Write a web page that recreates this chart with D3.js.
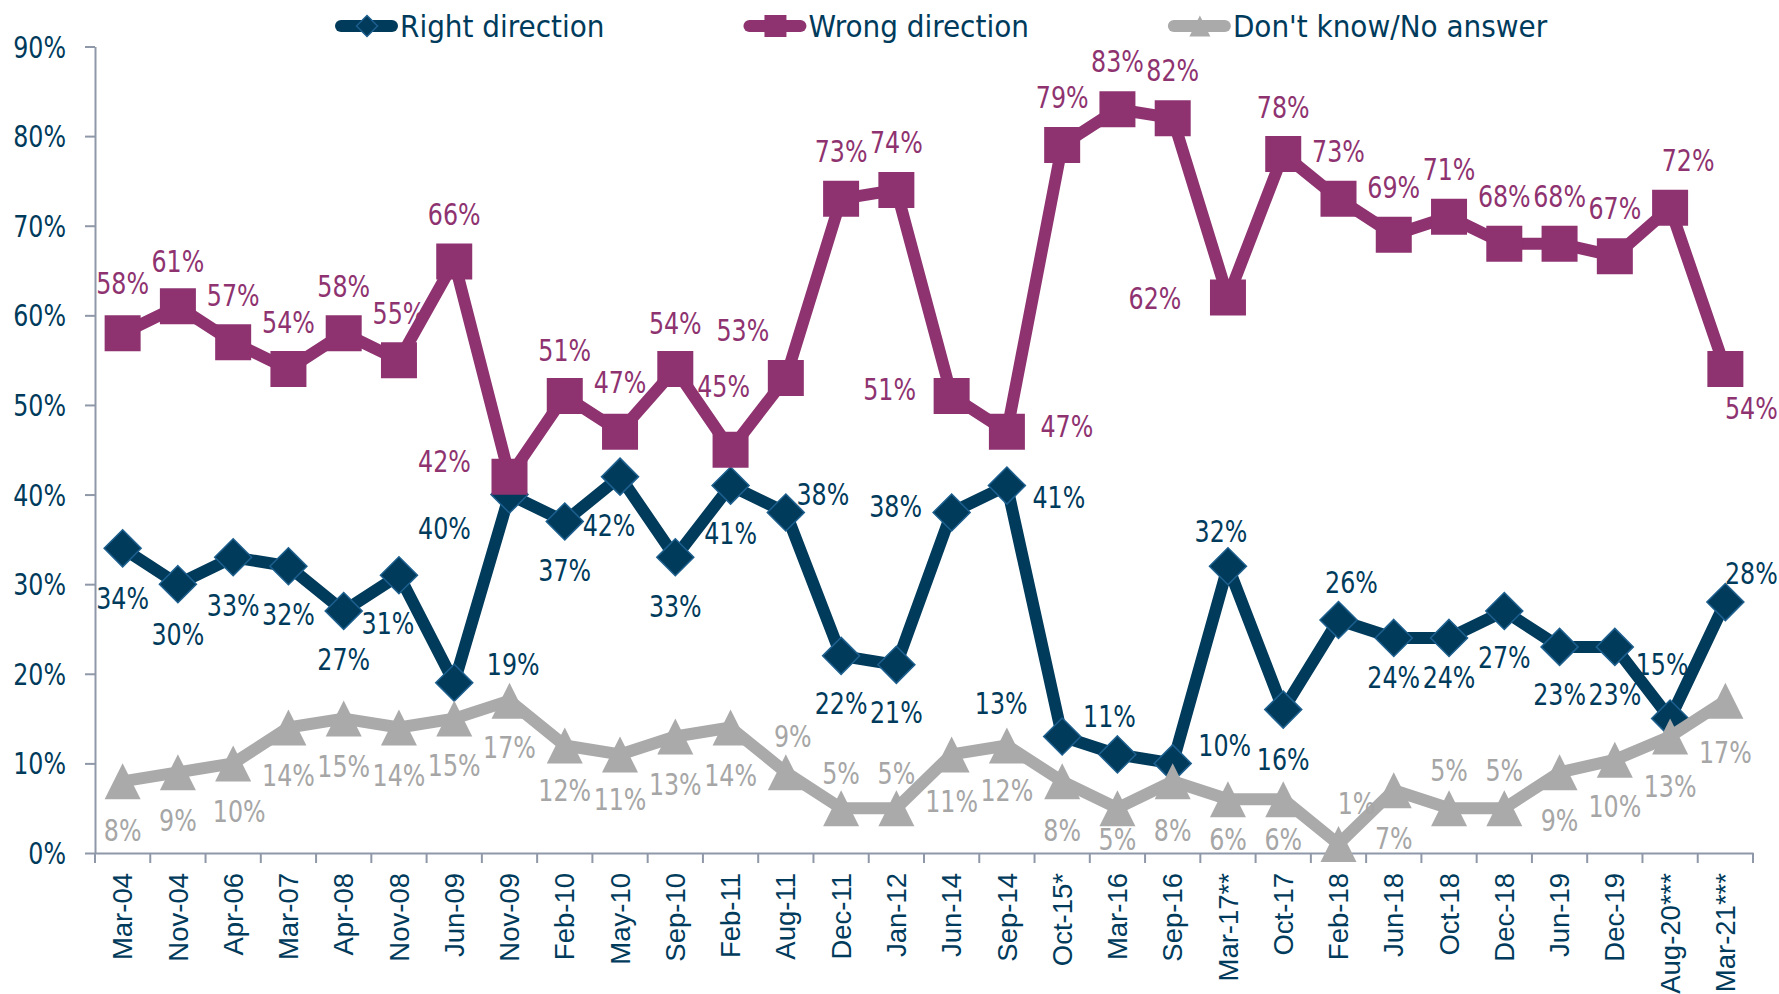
<!DOCTYPE html>
<html lang="en">
<head>
<meta charset="utf-8">
<title>Right direction / Wrong direction</title>
<script src="https://cdn.jsdelivr.net/npm/d3@7"></script>
<style>
  body { margin: 0; background: #fff; }
  .num { font-family: "Liberation Sans Narrow", "DejaVu Sans Condensed", sans-serif; font-size: 30px; }
  .leg { font-family: "DejaVu Sans Condensed", "DejaVu Sans", sans-serif; font-size: 31px; fill: #003b5c; }
  .xax text { font-family: "Liberation Sans", Arial, sans-serif; font-size: 27.5px; fill: #003b5c; }
</style>
</head>
<body>
<script>
// survey waves
var categories = ["Mar-04","Nov-04","Apr-06","Mar-07","Apr-08","Nov-08","Jun-09","Nov-09","Feb-10","May-10",
                  "Sep-10","Feb-11","Aug-11","Dec-11","Jan-12","Jun-14","Sep-14","Oct-15*","Mar-16","Sep-16",
                  "Mar-17**","Oct-17","Feb-18","Jun-18","Oct-18","Dec-18","Jun-19","Dec-19","Aug-20***","Mar-21***"];

var rightDir = [34,30,33,32,27,31,19,40,37,42,33,41,38,22,21,38,41,13,11,10,32,16,26,24,24,27,23,23,15,28];
var wrongDir = [58,61,57,54,58,55,66,42,51,47,54,45,53,73,74,51,47,79,83,82,62,78,73,69,71,68,68,66.6,72,54];
var dontKnow = [8,9,10,14,15,14,15,17,12,11,13,14,9,5,5,11,12,8,5,8,6,6,1,7,5,5,9,10.4,13,17];

var yTicks = [0,10,20,30,40,50,60,70,80,90];

// where each data label sits relative to its point (dx, dy)
var rightNudge = [[0,50],[0,50],[0,48],[0,48],[0,48],[-11,48],[59,-18],[-65,34],[0,49],[-11,49],
                  [0,49],[0,48],[37,-18],[0,48],[0,48],[-56,-6],[52,12],[-61,-33],[-8,-38],[52,-18],
                  [-7,-35],[0,50],[13,-38],[0,40],[0,40],[0,46],[0,48],[0,48],[-8,-54],[26,-29]];
var wrongNudge = [[0,-50],[0,-45],[0,-47],[0,-47],[0,-47],[0,-47],[0,-47],[-65,-15],[0,-45],[0,-49],
                  [0,-46],[-7,-63],[-43,-48],[0,-47],[0,-47],[-62,-6],[60,-5],[0,-48],[0,-48],[0,-48],
                  [-73,1],[0,-47],[0,-47],[0,-47],[0,-47],[0,-47],[0,-47],[0,-48],[18,-47],[26,39]];
var dkNudge    = [[0,49],[0,48],[6,48],[0,48],[0,48],[0,48],[0,47],[0,47],[0,45],[0,45],
                  [0,48],[0,48],[7,-36],[0,-35],[0,-35],[0,47],[0,45],[0,49],[0,48],[0,49],
                  [0,48],[0,48],[18,-41],[0,48],[0,-38],[0,-38],[0,48],[0,47],[0,50],[0,52]];

var navy = "#003b5c", plum = "#8e3370", grey = "#aaaaaa", axisCol = "#8f98a8";

var series = [
    {name: "Right direction",      values: rightDir, nudge: rightNudge, color: navy, text: navy,      shape: "diamond"},
    {name: "Wrong direction",      values: wrongDir, nudge: wrongNudge, color: plum, text: plum,      shape: "square"},
    {name: "Don't know/No answer", values: dontKnow, nudge: dkNudge,    color: grey, text: "#a6a6a6", shape: "triangle"}
];

var w = 1779, h = 994;
var padLeft = 95, padRight = 1753, padTop = 46.5, padBottom = 853;
var squeeze = 0.88; // the number font is narrower than anything installed

var svg = d3.select("body").append("svg").attr("width", w).attr("height", h);

var x = d3.scaleBand().domain(categories).range([padLeft, padRight]);
var y = d3.scaleLinear().domain([0, 90]).range([padBottom, padTop]);
function cx(i) { return x(categories[i]) + x.bandwidth() / 2; }

function shapePath(shape, s) {
    var r = s / 2;
    if (shape == "diamond") return "M0," + (-r) + "L" + r + ",0L0," + r + "L" + (-r) + ",0Z";
    if (shape == "square") return "M" + (-r) + "," + (-r) + "h" + s + "v" + s + "h" + (-s) + "Z";
    return "M0," + (-r) + "L" + r + "," + r + "L" + (-r) + "," + r + "Z";
}
var markerSize = {diamond: 37, square: 36, triangle: 36};

// y axis
var yAxis = d3.axisLeft(y).tickValues(yTicks).tickSize(10).tickSizeOuter(0).tickPadding(19)
    .tickFormat(function(d) { return d + "%"; });
var gy = svg.append("g").attr("transform", "translate(" + padLeft + ",0)").call(yAxis);
gy.select(".domain").attr("stroke", axisCol).attr("stroke-width", 2);
gy.selectAll(".tick line").attr("stroke", axisCol).attr("stroke-width", 2);
gy.selectAll(".tick text").each(function() {
    var t = d3.select(this), tx = +t.attr("x");
    t.attr("class", "num").attr("fill", navy).attr("dy", "0.35em")
     .attr("x", 0).attr("transform", "translate(" + tx + ",0) scale(" + squeeze + ",1)");
});

// x axis: labels at band centres, ticks on band edges
var xAxis = d3.axisBottom(x).tickSize(0).tickSizeOuter(0);
var gx = svg.append("g").attr("class", "xax").attr("transform", "translate(0," + padBottom + ")").call(xAxis);
gx.select(".domain").attr("stroke", axisCol).attr("stroke-width", 2);
gx.selectAll(".tick text")
    .attr("transform", "rotate(-90)")
    .attr("text-anchor", "end")
    .attr("x", -20).attr("y", 0).attr("dy", "0.35em");
var edges = categories.map(function(c) { return x(c); }).concat([x.range()[1]]);
gx.selectAll(".edge").data(edges).enter().append("line")
    .attr("x1", function(d) { return d; }).attr("x2", function(d) { return d; })
    .attr("y1", 0).attr("y2", 10)
    .attr("stroke", axisCol).attr("stroke-width", 2);

// series lines + markers
var line = d3.line().x(function(d, i) { return cx(i); }).y(function(d) { return y(d); });

series.forEach(function(s) {
    var g = svg.append("g");
    g.append("path").datum(s.values).attr("d", line)
        .attr("fill", "none").attr("stroke", s.color).attr("stroke-width", 12)
        .attr("stroke-linejoin", "round");
    g.selectAll(".m").data(s.values).enter().append("path")
        .attr("transform", function(d, i) { return "translate(" + cx(i) + "," + y(d) + ")"; })
        .attr("d", shapePath(s.shape, markerSize[s.shape]))
        .attr("fill", s.color)
        .attr("stroke", s.shape == "diamond" ? "#1d5f8e" : "none")
        .attr("stroke-width", 1.5);
});

// data labels on top
series.forEach(function(s) {
    svg.append("g").selectAll("text").data(s.values).enter().append("text")
        .attr("class", "num")
        .attr("transform", function(d, i) {
            var px = cx(i) + s.nudge[i][0];
            var py = Math.min(y(d) + s.nudge[i][1], padBottom - 14);
            return "translate(" + px + "," + py + ") scale(" + squeeze + ",1)";
        })
        .attr("dy", "0.35em")
        .attr("text-anchor", "middle")
        .attr("fill", s.text)
        .text(function(d) { return Math.round(d) + "%"; });
});

// legend
var lx = 335, ly = 26;
series.forEach(function(s) {
    var g = svg.append("g");
    g.append("line").attr("x1", lx + 6).attr("x2", lx + 57).attr("y1", ly).attr("y2", ly)
        .attr("stroke", s.color).attr("stroke-width", 12).attr("stroke-linecap", "round");
    g.append("path").attr("transform", "translate(" + (lx + 32) + "," + ly + ")")
        .attr("d", shapePath(s.shape, s.shape == "square" ? 22 : 21))
        .attr("fill", s.color)
        .attr("stroke", s.shape == "diamond" ? "#1d5f8e" : "none").attr("stroke-width", 1.5);
    var t = g.append("text").attr("class", "leg").attr("x", lx + 65).attr("y", ly).attr("dy", "0.36em").text(s.name);
    lx = lx + 65 + t.node().getComputedTextLength() + 139;
});
</script>
</body>
</html>
